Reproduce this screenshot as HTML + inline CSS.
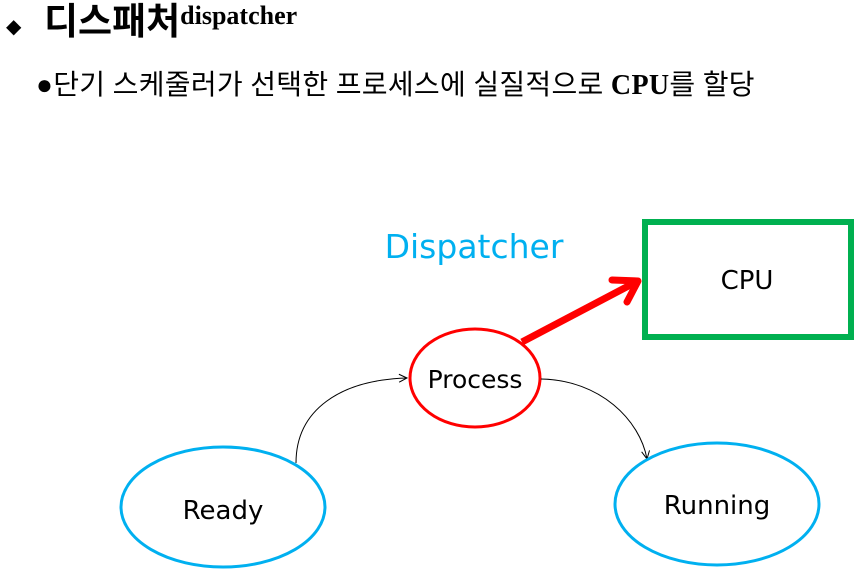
<!DOCTYPE html>
<html><head><meta charset="utf-8"><style>
body{margin:0;width:864px;height:577px;background:#fff;overflow:hidden;position:relative}
.t{position:absolute;white-space:nowrap}
</style></head><body>
<div class="t" style="left:6px;top:14px;font:20px 'DejaVu Sans',sans-serif">◆</div>
<div class="t" style="left:44px;top:0px;font:bold 37px 'Liberation Sans','Noto Sans CJK KR',sans-serif;line-height:44px">디스패처<span style="font:bold 26px 'Liberation Serif',serif;vertical-align:10px">dispatcher</span></div>
<div class="t" style="left:36px;top:68px;font:28px 'Liberation Serif','Noto Sans CJK KR',serif;line-height:36px;letter-spacing:0.3px">●단기 스케줄러가 선택한 프로세스에 실질적으로 <b>CPU</b>를 할당</div>
<svg width="864" height="577" style="position:absolute;left:0;top:0">
<defs><marker id="a" markerWidth="10" markerHeight="10" refX="9" refY="5" orient="auto" markerUnits="userSpaceOnUse"><path d="M1,1 L9,5 L1,9" fill="none" stroke="#000" stroke-width="1"/></marker></defs>
<rect x="645" y="222" width="206" height="115" fill="none" stroke="#00b050" stroke-width="6"/>
<text x="747" y="289" font-family="DejaVu Sans,sans-serif" font-size="26" text-anchor="middle">CPU</text>
<text x="474" y="258" font-family="DejaVu Sans,sans-serif" font-size="33" fill="#00b0f0" text-anchor="middle">Dispatcher</text>
<line x1="522" y1="342" x2="636" y2="282" stroke="#f00" stroke-width="7"/>
<path d="M612,280 L638,281 L627,302" fill="none" stroke="#f00" stroke-width="7" stroke-linecap="round" stroke-linejoin="round"/>
<ellipse cx="475" cy="378" rx="65" ry="49" fill="#fff" stroke="#f00" stroke-width="3"/>
<text x="475" y="388" font-family="DejaVu Sans,sans-serif" font-size="25" text-anchor="middle">Process</text>
<path d="M296,463 C296,410 340,380 407,378" fill="none" stroke="#000" stroke-width="1" marker-end="url(#a)"/>
<path d="M541,379 C600,380 640,420 647,459" fill="none" stroke="#000" stroke-width="1" marker-end="url(#a)"/>
<ellipse cx="223" cy="507" rx="102" ry="60" fill="none" stroke="#00b0f0" stroke-width="3"/>
<text x="223" y="519" font-family="DejaVu Sans,sans-serif" font-size="26" text-anchor="middle">Ready</text>
<ellipse cx="717" cy="504" rx="102" ry="61" fill="none" stroke="#00b0f0" stroke-width="3"/>
<text x="717" y="514" font-family="DejaVu Sans,sans-serif" font-size="26" text-anchor="middle">Running</text>
</svg>
</body></html>
